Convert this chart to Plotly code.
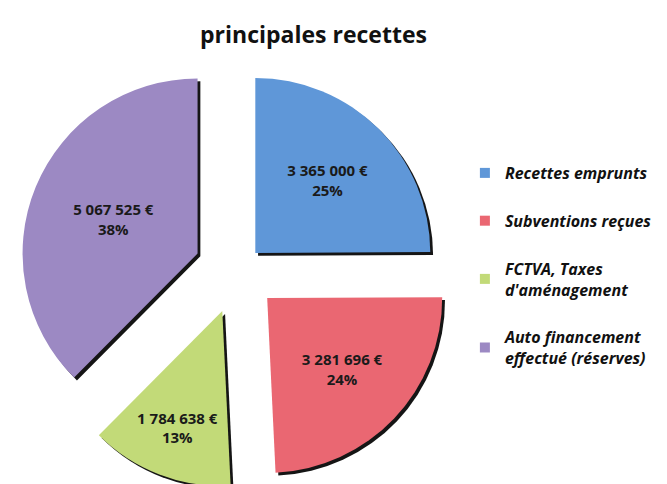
import plotly.graph_objects as go

categories = [
    "Recettes emprunts",
    "Subventions reçues",
    "FCTVA, Taxes<br>d'aménagement",
    "Auto financement<br>effectué (réserves)",
]
values = [3365000, 3281696, 1784638, 5067525]
colors = ["#5f97d8", "#ea6772", "#c2da78", "#9c89c3"]
pulls = [0.14, 0.23, 0.25, 0.25]
title_text = "principales recettes"

W, H = 667, 484
size = 437.5
cx = 230
dom_x = [(cx - size / 2) / W, (cx + size / 2) / W]
dom_y = [3 / H, (3 + size) / H]
dx, dy = 2.8 / W, 2.8 / H

fig = go.Figure()

# drop shadow behind the slices
fig.add_trace(go.Pie(
    labels=categories, values=values, sort=False, direction="clockwise", rotation=0,
    pull=pulls, marker=dict(colors=["#151515"] * len(values), line=dict(width=0)),
    textinfo="none", hoverinfo="skip", showlegend=False,
    domain=dict(x=[dom_x[0] + dx, dom_x[1] + dx], y=[dom_y[0] - dy, dom_y[1] - dy]),
))

fig.add_trace(go.Pie(
    labels=categories, values=values, sort=False, direction="clockwise", rotation=0,
    pull=pulls, marker=dict(colors=colors, line=dict(width=0)),
    texttemplate="%{value:,.0f} €<br>%{percent:.0%}",
    textposition="inside", insidetextorientation="horizontal",
    textfont=dict(family="Open Sans", size=15, color="#1a1a1a", weight="bold"),
    showlegend=False,
    domain=dict(x=dom_x, y=dom_y),
))

# legend entries (one group per category so that the gap applies)
for name, col in zip(categories, colors):
    fig.add_trace(go.Scatter(
        x=[None], y=[None], mode="markers", name=name, legendgroup=name,
        marker=dict(symbol="square", size=10, color=col),
        hoverinfo="skip",
    ))

fig.update_xaxes(visible=False)
fig.update_yaxes(visible=False)

fig.update_layout(
    width=W, height=H,
    margin=dict(l=0, r=0, t=0, b=0),
    paper_bgcolor="white", plot_bgcolor="white",
    separators=", ",
    uniformtext=dict(minsize=15, mode="show"),
    title=dict(text=title_text, x=0.458, xanchor="center", y=1 - 27 / H, yanchor="middle",
               yref="container",
               font=dict(family="Open Sans", size=23, color="#111111", weight="bold")),
    legend=dict(x=0.685, xanchor="left", y=0.468, yanchor="middle",
                traceorder="grouped", tracegroupgap=24,
                font=dict(family="Open Sans", size=16, color="#111111", weight="bold", style="italic"),
                bgcolor="rgba(0,0,0,0)"),
)

fig.write_html("out.html")
